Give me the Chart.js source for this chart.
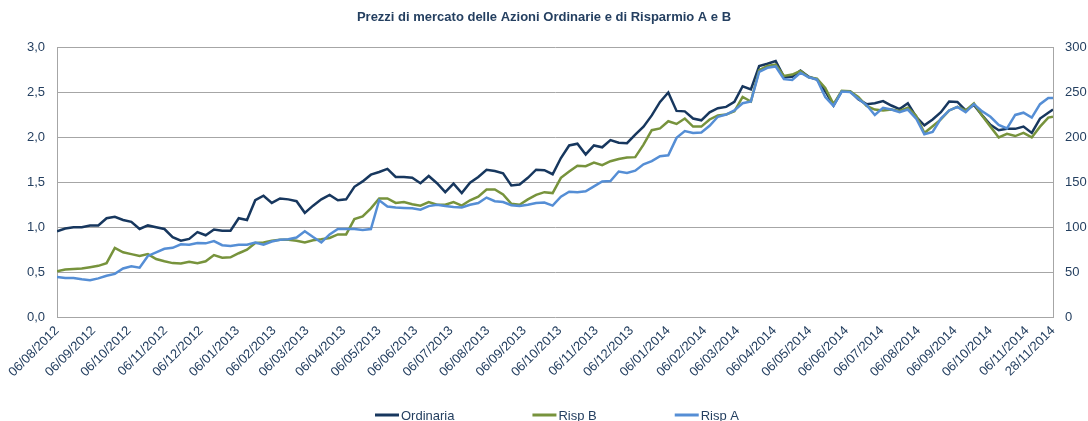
<!DOCTYPE html>
<html>
<head>
<meta charset="utf-8">
<script src="https://cdn.jsdelivr.net/npm/chart.js@4"></script>
<style>
  html, body { margin: 0; padding: 0; background: #fff; }
  #wrap { width: 1088px; height: 421px; position: relative; }
</style>
</head>
<body>
<div id="wrap"><canvas id="prezziChart"></canvas></div>
<script>
// weekly closing samples
const dates = [
  '06/08/2012','13/08/2012','20/08/2012','27/08/2012','03/09/2012','10/09/2012','17/09/2012','24/09/2012','01/10/2012','08/10/2012',
  '15/10/2012','22/10/2012','29/10/2012','05/11/2012','12/11/2012','19/11/2012','26/11/2012','03/12/2012','10/12/2012','17/12/2012',
  '24/12/2012','31/12/2012','07/01/2013','14/01/2013','21/01/2013','28/01/2013','04/02/2013','11/02/2013','18/02/2013','25/02/2013',
  '04/03/2013','11/03/2013','18/03/2013','25/03/2013','01/04/2013','08/04/2013','15/04/2013','22/04/2013','29/04/2013','06/05/2013',
  '13/05/2013','20/05/2013','27/05/2013','03/06/2013','10/06/2013','17/06/2013','24/06/2013','01/07/2013','08/07/2013','15/07/2013',
  '22/07/2013','29/07/2013','05/08/2013','12/08/2013','19/08/2013','26/08/2013','02/09/2013','09/09/2013','16/09/2013','23/09/2013',
  '30/09/2013','07/10/2013','14/10/2013','21/10/2013','28/10/2013','04/11/2013','11/11/2013','18/11/2013','25/11/2013','02/12/2013',
  '09/12/2013','16/12/2013','23/12/2013','30/12/2013','06/01/2014','13/01/2014','20/01/2014','27/01/2014','03/02/2014','10/02/2014',
  '17/02/2014','24/02/2014','03/03/2014','10/03/2014','17/03/2014','24/03/2014','31/03/2014','07/04/2014','14/04/2014','21/04/2014',
  '28/04/2014','05/05/2014','12/05/2014','19/05/2014','26/05/2014','02/06/2014','09/06/2014','16/06/2014','23/06/2014','30/06/2014',
  '07/07/2014','14/07/2014','21/07/2014','28/07/2014','04/08/2014','11/08/2014','18/08/2014','25/08/2014','01/09/2014','08/09/2014',
  '15/09/2014','22/09/2014','29/09/2014','06/10/2014','13/10/2014','20/10/2014','27/10/2014','03/11/2014','10/11/2014','17/11/2014',
  '24/11/2014','28/11/2014'
];

const ordinaria = [
  0.955, 0.985, 1.00, 1.00, 1.02, 1.02, 1.10, 1.115, 1.08, 1.06,
  0.98, 1.02, 1.00, 0.98, 0.89, 0.85, 0.87, 0.945, 0.91, 0.975,
  0.96, 0.96, 1.10, 1.08, 1.30, 1.35, 1.27, 1.32, 1.31, 1.29,
  1.16, 1.24, 1.31, 1.36, 1.30, 1.31, 1.45, 1.51, 1.585, 1.615,
  1.65, 1.56, 1.56, 1.55, 1.49, 1.57, 1.49, 1.39, 1.485, 1.38,
  1.495, 1.56, 1.64, 1.625, 1.60, 1.465, 1.475, 1.55, 1.64, 1.635,
  1.59, 1.77, 1.91, 1.93, 1.81, 1.91, 1.89, 1.97, 1.94, 1.935,
  2.03, 2.12, 2.245, 2.395, 2.50, 2.295, 2.29, 2.21, 2.19, 2.28,
  2.325, 2.34, 2.395, 2.57, 2.535, 2.795, 2.82, 2.85, 2.675, 2.675,
  2.745, 2.675, 2.645, 2.515, 2.355, 2.515, 2.515, 2.425, 2.37, 2.38,
  2.405, 2.355, 2.315, 2.38, 2.23, 2.135, 2.20, 2.28, 2.40, 2.395,
  2.30, 2.36, 2.245, 2.14, 2.08, 2.095, 2.095, 2.12, 2.05, 2.21,
  2.275, 2.31
];

const rispB = [
  0.51, 0.53, 0.535, 0.54, 0.555, 0.57, 0.60, 0.77, 0.72, 0.70,
  0.68, 0.70, 0.645, 0.62, 0.60, 0.595, 0.615, 0.60, 0.62, 0.69,
  0.66, 0.665, 0.71, 0.75, 0.825, 0.83, 0.85, 0.86, 0.86, 0.85,
  0.83, 0.855, 0.865, 0.88, 0.92, 0.92, 1.09, 1.12, 1.21, 1.32,
  1.32, 1.27, 1.28, 1.255, 1.24, 1.28, 1.25, 1.25, 1.28, 1.24,
  1.30, 1.34, 1.42, 1.42, 1.365, 1.26, 1.25, 1.31, 1.36, 1.39,
  1.38, 1.55, 1.62, 1.685, 1.68, 1.72, 1.69, 1.735, 1.76, 1.775,
  1.78, 1.92, 2.08, 2.10, 2.18, 2.15, 2.21, 2.12, 2.12, 2.20,
  2.245, 2.255, 2.29, 2.45, 2.40, 2.75, 2.795, 2.81, 2.685, 2.70,
  2.74, 2.67, 2.655, 2.55, 2.37, 2.52, 2.515, 2.45, 2.35, 2.31,
  2.30, 2.31, 2.295, 2.33, 2.24, 2.05, 2.125, 2.20, 2.30, 2.34,
  2.30, 2.38, 2.24, 2.12, 2.00, 2.04, 2.015, 2.05, 2.00, 2.12,
  2.22, 2.23
];

const rispA = [
  0.445, 0.435, 0.435, 0.42, 0.41, 0.43, 0.46, 0.48, 0.54, 0.565,
  0.55, 0.68, 0.72, 0.76, 0.77, 0.81, 0.805, 0.825, 0.82, 0.845,
  0.80, 0.79, 0.805, 0.805, 0.83, 0.805, 0.84, 0.86, 0.865, 0.885,
  0.955, 0.89, 0.83, 0.92, 0.98, 0.98, 0.98, 0.97, 0.98, 1.30,
  1.23, 1.22, 1.215, 1.21, 1.195, 1.235, 1.25, 1.235, 1.225, 1.22,
  1.25, 1.27, 1.33, 1.29, 1.28, 1.245, 1.235, 1.25, 1.27, 1.275,
  1.24, 1.34, 1.395, 1.39, 1.40, 1.455, 1.51, 1.515, 1.62, 1.605,
  1.63, 1.70, 1.735, 1.79, 1.80, 1.995, 2.07, 2.05, 2.055, 2.13,
  2.23, 2.255, 2.30, 2.38, 2.40, 2.73, 2.775, 2.79, 2.65, 2.64,
  2.72, 2.67, 2.645, 2.45, 2.35, 2.51, 2.505, 2.43, 2.36, 2.25,
  2.33, 2.31, 2.28, 2.31, 2.21, 2.035, 2.06, 2.21, 2.30, 2.34,
  2.28, 2.37, 2.29, 2.23, 2.14, 2.10, 2.25, 2.275, 2.22, 2.37,
  2.44, 2.44
];

const tickLabels = [
  '06/08/2012','06/09/2012','06/10/2012','06/11/2012','06/12/2012','06/01/2013','06/02/2013',
  '06/03/2013','06/04/2013','06/05/2013','06/06/2013','06/07/2013','06/08/2013','06/09/2013',
  '06/10/2013','06/11/2013','06/12/2013','06/01/2014','06/02/2014','06/03/2014','06/04/2014',
  '06/05/2014','06/06/2014','06/07/2014','06/08/2014','06/09/2014','06/10/2014','06/11/2014',
  '28/11/2014'
];

const FONT = "'Liberation Sans', Arial, sans-serif";
const TEXT = '#243F60';
const GRID = '#a6a6a6';

// days since the first date
const dayOf = (s) => {
    const [d, m, y] = s.split('/').map(Number);
    return (Date.UTC(y, m - 1, d) - Date.UTC(2012, 7, 6)) / 86400000;
};
const tickDays = tickLabels.map(dayOf);
const toPoints = (vals) => dates.map((d, i) => ({ x: dayOf(d), y: vals[i] }));

// legend drawn as short lines, spaced like the original
const lineLegend = {
    id: 'lineLegend',
    afterDraw(chart) {
        const ctx = chart.ctx;
        const items = chart.data.datasets;
        ctx.save();
        ctx.font = '13px ' + FONT;
        const sample = 24, gap = 2, spacing = 78;
        const widths = items.map(ds => sample + gap + ctx.measureText(ds.label).width);
        const total = widths.reduce((a, b) => a + b, 0) + spacing * (items.length - 1);
        let x = 557 - total / 2;
        const y = 415;
        items.forEach((ds, i) => {
            ctx.strokeStyle = ds.borderColor;
            ctx.lineWidth = 3;
            ctx.beginPath();
            ctx.moveTo(x, y);
            ctx.lineTo(x + sample, y);
            ctx.stroke();
            ctx.fillStyle = TEXT;
            ctx.textAlign = 'left';
            ctx.textBaseline = 'middle';
            ctx.fillText(ds.label, x + sample + gap, y + 1);
            x += widths[i] + spacing;
        });
        ctx.restore();
    }
};

const ctx = document.getElementById('prezziChart').getContext('2d');
new Chart(ctx, {
    type: 'line',
    data: {
        datasets: [{
            label: 'Ordinaria',
            data: toPoints(ordinaria),
            borderColor: '#17375E',
            borderWidth: 2.5,
            pointRadius: 0,
            order: 2
        }, {
            label: 'Risp B',
            data: toPoints(rispB),
            borderColor: '#77933C',
            borderWidth: 2.5,
            pointRadius: 0,
            order: 1
        }, {
            label: 'Risp A',
            data: toPoints(rispA),
            borderColor: '#558ED5',
            borderWidth: 2.5,
            pointRadius: 0,
            order: 0
        }]
    },
    options: {
        responsive: true,
        maintainAspectRatio: false,
        animation: false,
        layout: { padding: 0 },
        plugins: {
            legend: { display: false },
            tooltip: { enabled: false },
            title: {
                display: true,
                text: 'Prezzi di mercato delle Azioni Ordinarie e di Risparmio A e B',
                color: TEXT,
                font: { family: FONT, size: 13, weight: 'bold' },
                padding: { top: 10, bottom: 22 }
            }
        },
        scales: {
            x: {
                type: 'linear',
                min: 0,
                max: dayOf('28/11/2014'),
                afterBuildTicks: (scale) => { scale.ticks = tickDays.map(v => ({ value: v })); },
                afterFit: (scale) => { scale.height = 104; },
                grid: { display: false, drawTicks: false },
                border: { display: false },
                ticks: {
                    autoSkip: false,
                    maxRotation: 45,
                    minRotation: 45,
                    padding: 6,
                    color: TEXT,
                    font: { family: FONT, size: 13 },
                    callback: (v) => tickLabels[tickDays.indexOf(v)]
                }
            },
            y: {
                position: 'left',
                min: 0,
                max: 3,
                afterFit: (scale) => { scale.width = 57; },
                grid: { color: GRID, drawTicks: false },
                border: { display: true, color: GRID },
                ticks: {
                    stepSize: 0.5,
                    padding: 12,
                    color: TEXT,
                    font: { family: FONT, size: 13 },
                    callback: (v) => v.toFixed(1).replace('.', ',')
                }
            },
            y1: {
                position: 'right',
                min: 0,
                max: 300,
                afterFit: (scale) => { scale.width = 35; },
                grid: { display: false, drawTicks: false },
                border: { display: true, color: GRID },
                ticks: {
                    stepSize: 50,
                    padding: 12,
                    color: TEXT,
                    font: { family: FONT, size: 13 }
                }
            }
        }
    },
    plugins: [lineLegend]
});
</script>
</body>
</html>
